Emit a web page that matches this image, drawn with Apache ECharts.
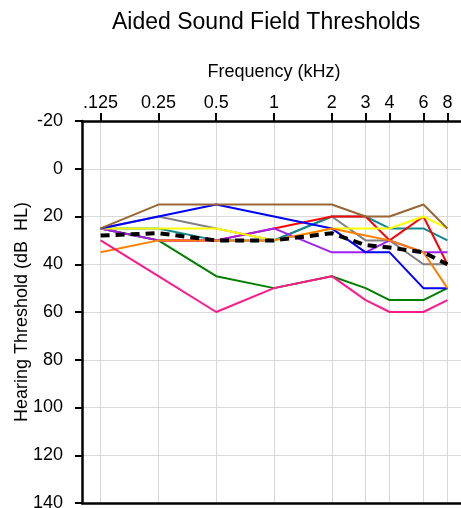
<!DOCTYPE html>
<html>
<head>
<meta charset="utf-8">
<script src="https://cdn.jsdelivr.net/npm/echarts@6/dist/echarts.min.js"></script>
<style>
html,body{margin:0;padding:0;background:#fff;}
#chart{width:461px;height:508px;}
</style>
</head>
<body>
<div id="chart"></div>
<script>
// Frequencies (kHz) and tick labels
var freqs = [0.125, 0.25, 0.5, 1, 2, 3, 4, 6, 8];
var freqLabels = ['.125', '0.25', '0.5', '1', '2', '3', '4', '6', '8'];

// Thresholds (dB HL) per series
var gray   = [25, 20, 25, 30, 20, 30, 30, 40, 40];
var teal   = [25, 25, 30, 30, 20, 20, 25, 25, 30];
var red    = [25, 30, 30, 25, 20, 20, 30, 20, 40];
var green  = [25, 30, 45, 50, 45, 50, 55, 55, 50];
var purple = [25, 30, 30, 25, 35, 35, 30, 35, 35];
var yellow = [25, 25, 25, 30, 25, 25, 25, 20, 25];
var blue   = [25, 20, 15, 20, 25, 35, 35, 50, 50];
var brown  = [25, 15, 15, 15, 15, 20, 20, 15, 25];
var orange = [35, 30, 30, 30, 25, 28, 30, 35, 50];
var pink   = [30, 45, 60, 50, 45, 55, 60, 60, 55];
var average = [28, 27, 30, 30, 27, 32, 33, 35, 40];

var yTicks = [-20, 0, 20, 40, 60, 80, 100, 120, 140];

function pairs(vals) {
  return freqs.map(function (f, i) { return [f, vals[i]]; });
}
function line(name, vals, color, extra) {
  var s = {
    name: name, type: 'line', data: pairs(vals), symbol: 'none',
    lineStyle: { color: color, width: 2 }, itemStyle: { color: color },
    animation: false, clip: false
  };
  if (extra) { for (var k in extra) s[k] = extra[k]; }
  return s;
}

var FONT = 'Liberation Sans, Arial, sans-serif';
var chart = echarts.init(document.getElementById('chart'));
chart.setOption({
  backgroundColor: '#fff',
  animation: false,
  title: {
    text: 'Aided Sound Field Thresholds',
    left: 107, top: 6,
    textStyle: { fontFamily: FONT, fontSize: 23, fontWeight: 'normal', color: '#000' }
  },
  grid: { left: 82, top: 121, width: 384, height: 382, outerBoundsMode: 'none', containLabel: false },
  xAxis: [{
    type: 'log', logBase: 2, min: 0.1, max: 10, position: 'top',
    name: 'Frequency (kHz)', nameLocation: 'middle', nameGap: 40, nameMoveOverlap: false,
    nameTextStyle: { fontFamily: FONT, fontSize: 18, color: '#000' },
    axisLine: { show: true, onZero: false, lineStyle: { color: '#000', width: 2.5 } },
    axisTick: { show: true, inside: false, length: 8, customValues: freqs, lineStyle: { color: '#000', width: 2 } },
    axisLabel: {
      customValues: freqs, margin: 9,
      fontFamily: FONT, fontSize: 18, color: '#000',
      formatter: function (v) {
        for (var i = 0; i < freqs.length; i++) { if (Math.abs(freqs[i] - v) < 1e-6) return freqLabels[i]; }
        return '';
      }
    },
    splitLine: { show: true, lineStyle: { color: '#d9d9d9', width: 1 } },
    minorTick: { show: false }, minorSplitLine: { show: false }
  }, {
    type: 'log', logBase: 2, min: 0.1, max: 10, position: 'bottom',
    axisLine: { show: true, onZero: false, lineStyle: { color: '#000', width: 2.5 } },
    axisTick: { show: false }, axisLabel: { show: false }, splitLine: { show: false }
  }],
  yAxis: {
    type: 'value', inverse: true, min: -20, max: 140, interval: 20,
    name: 'Hearing Threshold (dB  HL)', nameLocation: 'middle', nameGap: 51, nameRotate: 90, nameMoveOverlap: false,
    nameTextStyle: { fontFamily: FONT, fontSize: 18, color: '#000' },
    axisLine: { show: true, onZero: false, lineStyle: { color: '#000', width: 2.5 } },
    axisTick: { show: true, inside: false, length: 7, lineStyle: { color: '#000', width: 2 } },
    axisLabel: { margin: 19, fontFamily: FONT, fontSize: 18, color: '#000' },
    splitLine: { show: true, lineStyle: { color: '#d9d9d9', width: 1 } }
  },
  series: [
    line('gray', gray, '#808080'),
    line('teal', teal, '#12888f'),
    line('red', red, '#ff0000'),
    line('green', green, '#008000'),
    line('purple', purple, '#a020f0'),
    line('yellow', yellow, '#ffff00'),
    line('blue', blue, '#0000ff'),
    line('brown', brown, '#996633'),
    line('orange', orange, '#ff8000'),
    line('pink', pink, '#ff1a8c'),
    line('average', average, '#000000', { lineStyle: { color: '#000', width: 4, type: [9, 6] } })
  ]
});
</script>
</body>
</html>
